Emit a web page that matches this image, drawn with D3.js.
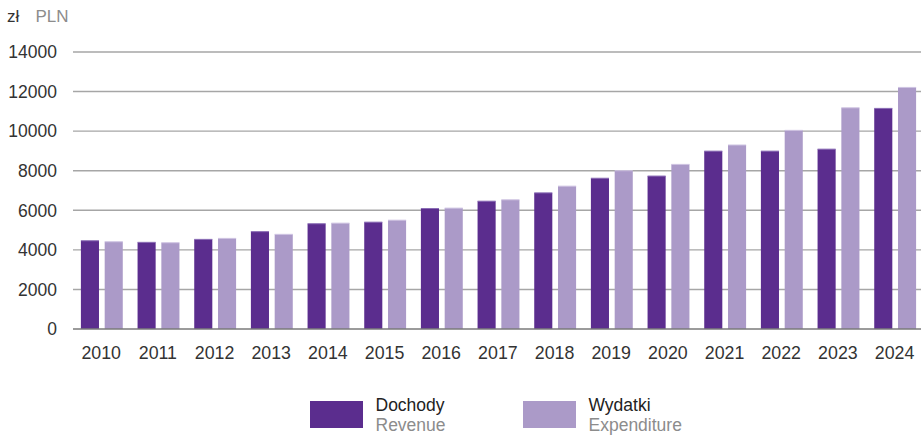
<!DOCTYPE html>
<html>
<head>
<meta charset="utf-8">
<script src="https://cdn.jsdelivr.net/npm/d3@7"></script>
<style>
  html, body { margin: 0; padding: 0; background: #fff; }
  svg { display: block; font-family: "Liberation Sans", Arial, Helvetica, sans-serif; }
</style>
</head>
<body>
<svg id="chart" width="921" height="436"></svg>
<script>
// Budget revenue and expenditure, PLN per year
const years = ["2010","2011","2012","2013","2014","2015","2016","2017","2018","2019","2020","2021","2022","2023","2024"];
const revenue = [4460, 4380, 4530, 4920, 5320, 5400, 6090, 6460, 6880, 7620, 7730, 8990, 8990, 9090, 11150];
const expenditure = [4410, 4360, 4580, 4785, 5350, 5500, 6110, 6530, 7220, 8000, 8320, 9300, 10040, 11180, 12210];
const yTicks = [0, 2000, 4000, 6000, 8000, 10000, 12000, 14000];
const seriesNames = ["Dochody", "Wydatki"];
const seriesNamesEn = ["Revenue", "Expenditure"];
const colors = ["#5b2d8e", "#ab9ac8"];

const svg = d3.select("#chart");
const plot = { left: 73, right: 921, top: 52, bottom: 329 };

const x = d3.scaleBand()
  .domain(years)
  .range([73.4, 923.4])
  .paddingInner(0)
  .paddingOuter(0);

const inner = d3.scaleBand()
  .domain(seriesNames)
  .range([7.5, x.bandwidth() - 7.3])
  .paddingInner(0.24);

const y = d3.scaleLinear()
  .domain([0, 14000])
  .range([plot.bottom, plot.top]);

// horizontal gridlines
svg.append("g")
  .selectAll("line")
  .data(yTicks.filter(d => d > 0))
  .join("line")
  .attr("x1", plot.left)
  .attr("x2", plot.right)
  .attr("y1", d => y(d))
  .attr("y2", d => y(d))
  .attr("stroke", "#a6a6a6")
  .attr("stroke-width", 1.4);

// y tick labels
svg.append("g")
  .selectAll("text")
  .data(yTicks)
  .join("text")
  .attr("x", 57)
  .attr("y", d => y(d))
  .attr("dy", "0.36em")
  .attr("text-anchor", "end")
  .attr("font-size", 17.5)
  .attr("fill", "#333")
  .text(d => d);

// bars
const rows = years.map((yr, i) => ({ year: yr, values: [revenue[i], expenditure[i]] }));
const groups = svg.append("g")
  .selectAll("g")
  .data(rows)
  .join("g")
  .attr("transform", d => `translate(${x(d.year)},0)`);

groups.selectAll("rect.bar")
  .data(d => d.values.map((v, k) => ({ key: seriesNames[k], value: v, k })))
  .join("rect")
  .attr("class", "bar")
  .attr("x", d => inner(d.key))
  .attr("width", inner.bandwidth())
  .attr("y", d => y(d.value))
  .attr("height", d => y(0) - y(d.value))
  .attr("fill", d => colors[d.k]);

// light edge along the top of each bar
groups.selectAll("rect.edge")
  .data(d => d.values.map((v, k) => ({ key: seriesNames[k], value: v, k })))
  .join("rect")
  .attr("class", "edge")
  .attr("x", d => inner(d.key))
  .attr("width", inner.bandwidth())
  .attr("y", d => y(d.value) - 0.5)
  .attr("height", 1)
  .attr("fill", d => d.k === 0 ? "#8a6db5" : "#cfc4e2");

// baseline
svg.append("line")
  .attr("x1", plot.left)
  .attr("x2", plot.right)
  .attr("y1", y(0))
  .attr("y2", y(0))
  .attr("stroke", "#7a7a7a")
  .attr("stroke-width", 1.5);

// x axis labels
svg.append("g")
  .selectAll("text")
  .data(years)
  .join("text")
  .attr("x", d => x(d) + x.bandwidth() / 2 - 0.5)
  .attr("y", 358.5)
  .attr("text-anchor", "middle")
  .attr("font-size", 17.8)
  .attr("fill", "#333")
  .text(d => d);

// unit label
const unit = svg.append("text").attr("x", 7).attr("y", 22).attr("font-size", 17);
unit.append("tspan").attr("fill", "#333").text("zł");
unit.append("tspan").attr("x", 35.5).attr("fill", "#8c8c8c").text("PLN");

// legend
const legendX = [310, 523];
const legend = svg.append("g")
  .selectAll("g")
  .data(seriesNames)
  .join("g")
  .attr("transform", (d, i) => `translate(${legendX[i]},0)`);

legend.append("rect")
  .attr("x", 0)
  .attr("y", 401)
  .attr("width", 53)
  .attr("height", 27)
  .attr("fill", (d, i) => colors[i]);

legend.append("text")
  .attr("x", 65.5)
  .attr("y", 411)
  .attr("font-size", 17.5)
  .attr("fill", "#222")
  .text(d => d);

legend.append("text")
  .attr("x", 65.5)
  .attr("y", 431)
  .attr("font-size", 17.5)
  .attr("fill", "#8c8c8c")
  .text((d, i) => seriesNamesEn[i]);
</script>
</body>
</html>
